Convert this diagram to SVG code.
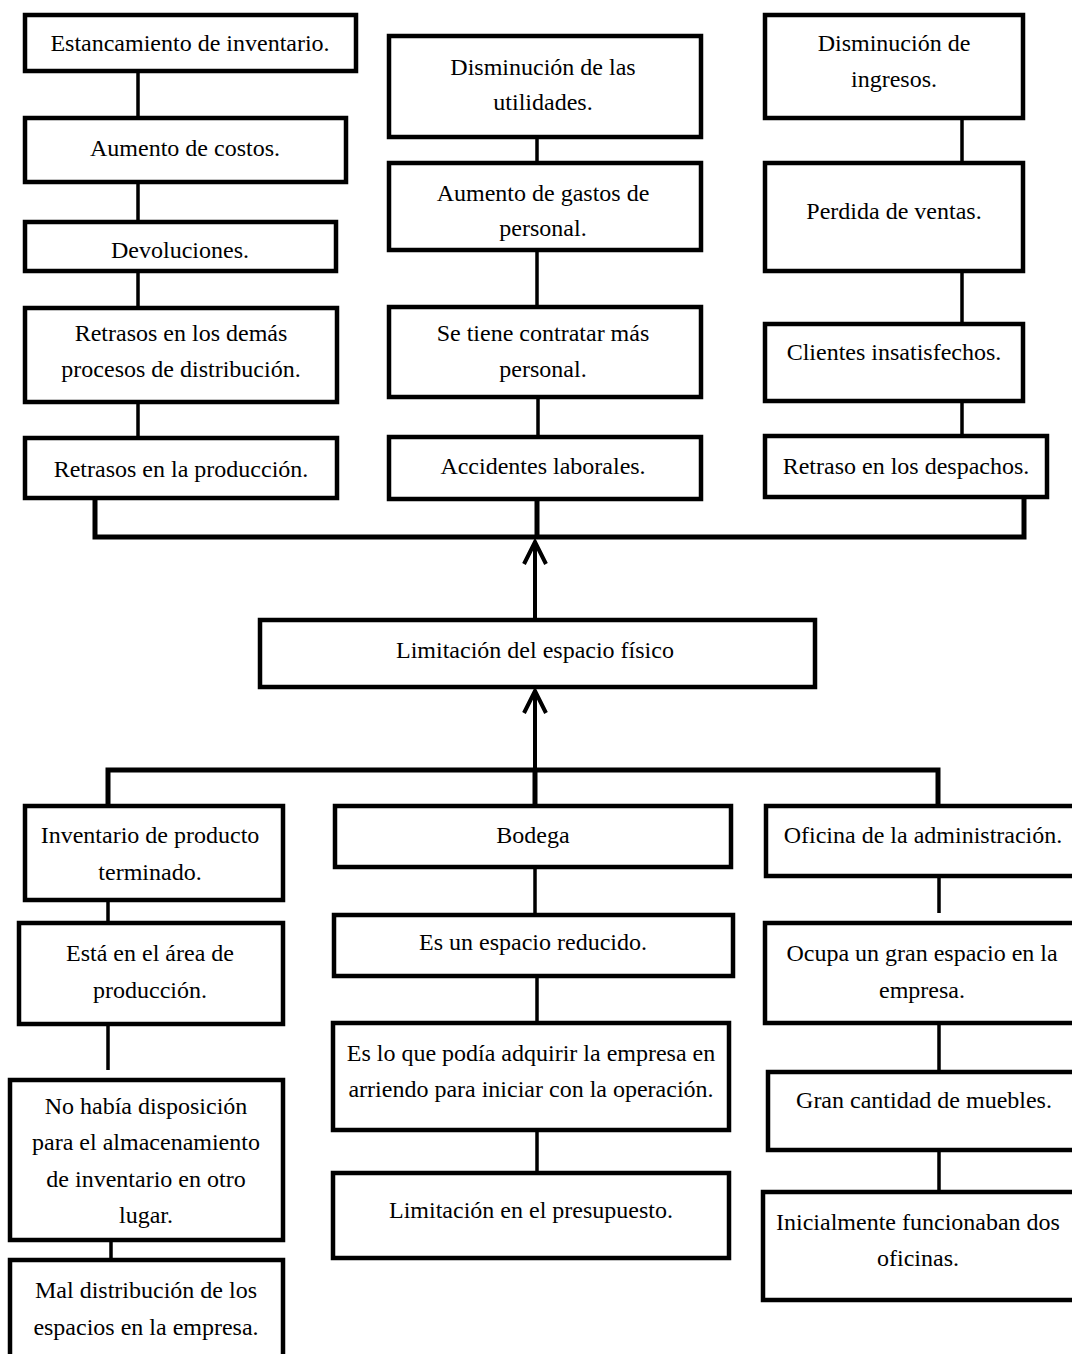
<svg xmlns="http://www.w3.org/2000/svg" width="1072" height="1354" viewBox="0 0 1072 1354">
<style>
.box rect{fill:#fff;stroke:#000;stroke-width:4.5}
.box text{font-family:"Liberation Serif","Times New Roman",serif;font-size:24px;fill:#000;text-anchor:middle}
.conn path{fill:none;stroke:#000;stroke-width:3.5}
.conn .bus{stroke-width:5}
.conn .arr{stroke-width:4;marker-end:url(#ah)}
</style>
<defs>
<marker id="ah" markerUnits="userSpaceOnUse" orient="auto" refX="0" refY="0" markerWidth="40" markerHeight="40" viewBox="-30 -20 40 40" overflow="visible">
<path d="M-22,-11 L0,0 L-22,11" fill="none" stroke="#000" stroke-width="4" stroke-linejoin="miter"/>
</marker>
</defs>
<rect width="1072" height="1354" fill="#fff"/>
<g class="conn">
<path d="M138,71 V118 M138,182 V222 M138,271 V308 M138,402 V438"/>
<path d="M537,137 V163 M537,250 V307 M538,397 V437"/>
<path d="M962,118 V163 M962,271 V324 M962,401 V436"/>
<path class="bus" d="M95,498 V537 H1024 V497 M537,499 V537"/>
<path class="arr" d="M535,620 V542"/>
<path class="arr" d="M535,770 V691"/>
<path class="bus" d="M108,805 V770 H938 V805 M535,770 V805"/>
<path d="M108,900 V923 M108,1024 V1070 M111,1240 V1260"/>
<path d="M535,867 V915 M537,976 V1023 M537,1130 V1173"/>
<path d="M939,876 V913 M939,1023 V1072 M939,1150 V1192"/>
</g>
<g id="n1" class="box"><rect x="25" y="15" width="331" height="56"/><text x="190" y="51">Estancamiento de inventario.</text></g>
<g id="n2" class="box"><rect x="25" y="118" width="321" height="64"/><text x="185" y="156">Aumento de costos.</text></g>
<g id="n3" class="box"><rect x="25" y="222" width="311" height="49"/><text x="180" y="258">Devoluciones.</text></g>
<g id="n4" class="box"><rect x="25" y="308" width="312" height="94"/><text x="181" y="341">Retrasos en los demás</text><text x="181" y="377">procesos de distribución.</text></g>
<g id="n5" class="box"><rect x="25" y="438" width="312" height="60"/><text x="181" y="477">Retrasos en la producción.</text></g>
<g id="n6" class="box"><rect x="389" y="36" width="312" height="101"/><text x="543" y="75">Disminución de las</text><text x="543" y="110">utilidades.</text></g>
<g id="n7" class="box"><rect x="389" y="163" width="312" height="87"/><text x="543" y="201">Aumento de gastos de</text><text x="543" y="236">personal.</text></g>
<g id="n8" class="box"><rect x="389" y="307" width="312" height="90"/><text x="543" y="341">Se tiene contratar más</text><text x="543" y="377">personal.</text></g>
<g id="n9" class="box"><rect x="389" y="437" width="312" height="62"/><text x="543" y="474">Accidentes laborales.</text></g>
<g id="n10" class="box"><rect x="765" y="15" width="258" height="103"/><text x="894" y="51">Disminución de</text><text x="894" y="87">ingresos.</text></g>
<g id="n11" class="box"><rect x="765" y="163" width="258" height="108"/><text x="894" y="219">Perdida de ventas.</text></g>
<g id="n12" class="box"><rect x="765" y="324" width="258" height="77"/><text x="894" y="360">Clientes insatisfechos.</text></g>
<g id="n13" class="box"><rect x="765" y="436" width="282" height="61"/><text x="906" y="474">Retraso en los despachos.</text></g>
<g id="n14" class="box"><rect x="260" y="620" width="555" height="67"/><text x="535" y="658">Limitación del espacio físico</text></g>
<g id="n15" class="box"><rect x="25" y="806" width="258" height="94"/><text x="150" y="843">Inventario de producto</text><text x="150" y="880">terminado.</text></g>
<g id="n16" class="box"><rect x="19" y="923" width="264" height="101"/><text x="150" y="961">Está en el área de</text><text x="150" y="998">producción.</text></g>
<g id="n17" class="box"><rect x="10" y="1080" width="273" height="160"/><text x="146" y="1114">No había disposición</text><text x="146" y="1150">para el almacenamiento</text><text x="146" y="1187">de inventario en otro</text><text x="146" y="1223">lugar.</text></g>
<g id="n18" class="box"><rect x="10" y="1260" width="273" height="110"/><text x="146" y="1298">Mal distribución de los</text><text x="146" y="1335">espacios en la empresa.</text></g>
<g id="n19" class="box"><rect x="335" y="806" width="396" height="61"/><text x="533" y="843">Bodega</text></g>
<g id="n20" class="box"><rect x="334" y="915" width="399" height="61"/><text x="533" y="950">Es un espacio reducido.</text></g>
<g id="n21" class="box"><rect x="333" y="1023" width="396" height="107"/><text x="531" y="1061">Es lo que podía adquirir la empresa en</text><text x="531" y="1097">arriendo para iniciar con la operación.</text></g>
<g id="n22" class="box"><rect x="333" y="1173" width="396" height="85"/><text x="531" y="1218">Limitación en el presupuesto.</text></g>
<g id="n23" class="box"><rect x="766" y="806" width="320" height="70"/><text x="923" y="843">Oficina de la administración.</text></g>
<g id="n24" class="box"><rect x="765" y="923" width="320" height="100"/><text x="922" y="961">Ocupa un gran espacio en la</text><text x="922" y="998">empresa.</text></g>
<g id="n25" class="box"><rect x="768" y="1072" width="320" height="78"/><text x="924" y="1108">Gran cantidad de muebles.</text></g>
<g id="n26" class="box"><rect x="763" y="1192" width="320" height="108"/><text x="918" y="1230">Inicialmente funcionaban dos</text><text x="918" y="1266">oficinas.</text></g>
</svg>
